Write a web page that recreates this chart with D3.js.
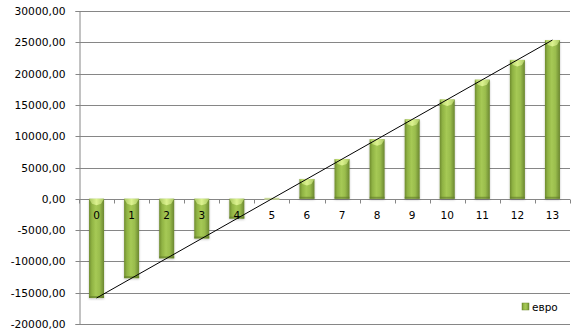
<!DOCTYPE html>
<html>
<head>
<meta charset="utf-8">
<script src="https://cdn.jsdelivr.net/npm/d3@7/dist/d3.min.js"></script>
<style>
  html, body { margin: 0; padding: 0; background: #fff; }
  svg { display: block; font-family: "DejaVu Sans", Verdana, sans-serif; }
</style>
</head>
<body>
<svg id="chart" width="579" height="334"></svg>
<script>
// Periods and yearly balance (евро)
const categories = ["0","1","2","3","4","5","6","7","8","9","10","11","12","13"];
const values = [-15850, -12680, -9510, -6340, -3170, 0, 3170, 6340, 9510, 12680, 15850, 19020, 22190, 25360];
const yTicks = [-20000, -15000, -10000, -5000, 0, 5000, 10000, 15000, 20000, 25000, 30000];
const seriesName = "евро";

const svg = d3.select("#chart");
const plot = { left: 79, right: 570, top: 11, bottom: 324 };

const x = d3.scaleBand().domain(categories).range([plot.left, plot.right]).paddingInner(0).paddingOuter(0);
const y = d3.scaleLinear().domain([-20000, 30000]).range([plot.bottom, plot.top]);
const fmt = v => d3.format(".2f")(v).replace(".", ",").replace("−", "-");

// gradients for the bevelled bars
const defs = svg.append("defs");
const body = defs.append("linearGradient").attr("id", "barBody").attr("x1", "0").attr("x2", "1").attr("y1", "0").attr("y2", "0");
[["0%", "#6f8c2f"], ["18%", "#8fb243"], ["45%", "#a6c955"], ["70%", "#9abd4d"], ["100%", "#6b8730"]]
  .forEach(([o, c]) => body.append("stop").attr("offset", o).attr("stop-color", c));
const cap = defs.append("linearGradient").attr("id", "barCap").attr("x1", "0").attr("x2", "1").attr("y1", "0").attr("y2", "0");
[["0%", "#a9c860"], ["50%", "#dcf28f"], ["100%", "#a9c860"]]
  .forEach(([o, c]) => cap.append("stop").attr("offset", o).attr("stop-color", c));
defs.append("filter").attr("id", "shadow").attr("x", "-30%").attr("y", "-10%").attr("width", "160%").attr("height", "130%")
  .append("feDropShadow").attr("dx", 0).attr("dy", 1).attr("stdDeviation", 1).attr("flood-color", "#000").attr("flood-opacity", 0.25);

// horizontal gridlines
svg.append("g").selectAll("line").data(yTicks).join("line")
  .attr("x1", plot.left).attr("x2", plot.right)
  .attr("y1", d => Math.round(y(d)) + 0.5).attr("y2", d => Math.round(y(d)) + 0.5)
  .attr("stroke", "#868686").attr("stroke-width", 1);

// y axis
const yAxis = d3.axisLeft(y).tickValues(yTicks).tickFormat(fmt).tickSize(4).tickPadding(10);
const gy = svg.append("g").attr("transform", `translate(${plot.left + 0.5},0)`).call(yAxis);
gy.select(".domain").attr("stroke", "#868686");
gy.selectAll(".tick line").attr("stroke", "#868686");
gy.selectAll(".tick text").attr("fill", "#000").style("font-size", "10.7px").attr("font-family", "DejaVu Sans, Verdana, sans-serif");
gy.selectAll(".tick").attr("transform", d => `translate(0,${Math.round(y(d)) + 0.5})`);

// category ticks along the zero line
const zeroY = Math.round(y(0)) + 0.5;
const bounds = categories.map(c => x(c)).concat([plot.right]);
svg.append("g").selectAll("line").data(bounds).join("line")
  .attr("x1", d => Math.round(d) + 0.5).attr("x2", d => Math.round(d) + 0.5)
  .attr("y1", zeroY).attr("y2", zeroY + 4)
  .attr("stroke", "#868686");

// bars
const barW = 15;
const bars = svg.append("g");
categories.forEach((c, i) => {
  const v = values[i];
  const cx = x(c) + x.bandwidth() / 2;
  const x0 = cx - barW / 2;
  const yTop = y(Math.max(v, 0));
  const yBot = y(Math.min(v, 0));
  const h = yBot - yTop;
  const g = bars.append("g");
  if (h > 1) {
    g.append("rect").attr("x", x0).attr("y", yTop).attr("width", barW).attr("height", h)
      .attr("fill", "url(#barBody)").attr("filter", "url(#shadow)");
    // bevel at the top face
    const bh = Math.min(5, h / 2);
    g.append("path")
      .attr("d", `M${x0},${yTop} L${x0 + barW},${yTop} L${x0 + barW - 3},${yTop + bh} L${cx},${yTop + bh + 1.5} L${x0 + 3},${yTop + bh} Z`)
      .attr("fill", "url(#barCap)");
    // darker lower edge
    g.append("rect").attr("x", x0).attr("y", yBot - 2).attr("width", barW).attr("height", 2)
      .attr("fill", "#5f7a28").attr("opacity", 0.6);
  } else {
    g.append("rect").attr("x", x0).attr("y", yTop - 1).attr("width", barW).attr("height", 2)
      .attr("fill", "#c9d99a");
  }
});

// category labels just below the zero line
svg.append("g").selectAll("text").data(categories).join("text")
  .attr("x", d => x(d) + x.bandwidth() / 2)
  .attr("y", zeroY + 19)
  .attr("text-anchor", "middle")
  .style("font-size", "10.5px")
  .attr("fill", "#000")
  .text(d => d);

// linear trend line (least squares over the series)
const idx = values.map((_, i) => i);
const mx = d3.mean(idx), my = d3.mean(values);
const slope = d3.sum(idx, i => (i - mx) * (values[i] - my)) / d3.sum(idx, i => (i - mx) ** 2);
const icpt = my - slope * mx;
const first = categories[0], last = categories[categories.length - 1];
svg.append("line")
  .attr("x1", x(first) + x.bandwidth() / 2).attr("y1", y(icpt))
  .attr("x2", x(last) + x.bandwidth() / 2).attr("y2", y(icpt + slope * (categories.length - 1)))
  .attr("stroke", "#000").attr("stroke-width", 1);

// legend
const lg = svg.append("g").attr("transform", "translate(522,303)");
lg.append("rect").attr("width", 7).attr("height", 7).attr("fill", "url(#barBody)").attr("stroke", "#6f8c2f").attr("stroke-width", 0.5);
lg.append("text").attr("x", 10).attr("y", 7.5).style("font-size", "10.5px").attr("fill", "#000").text(seriesName);
</script>
</body>
</html>
